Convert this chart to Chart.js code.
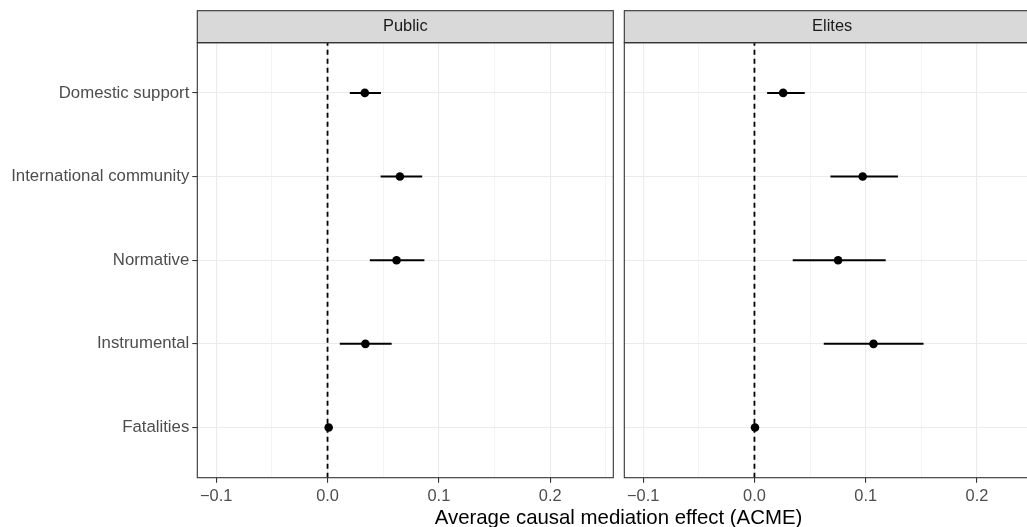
<!DOCTYPE html>
<html>
<head>
<meta charset="utf-8">
<script src="https://cdn.jsdelivr.net/npm/chart.js@4.4.1/dist/chart.umd.min.js"></script>
<style>
html,body{margin:0;padding:0;background:#fff;overflow:hidden;width:1027px;height:527px;position:relative;}
#c1{position:absolute;left:0;top:0;}
#c2{position:absolute;left:619px;top:0;}
#xt{position:absolute;left:318.5px;width:600px;top:505px;line-height:24px;text-align:center;
  font-family:"Liberation Sans",Arial,Helvetica,sans-serif;font-size:20.4px;color:#000;}
</style>
</head>
<body>
<canvas id="c1" width="619" height="527"></canvas>
<canvas id="c2" width="440" height="527"></canvas>
<div id="xt">Average causal mediation effect (ACME)</div>
<script>
// ---- data ----
const categories = ['Domestic support', 'International community', 'Normative', 'Instrumental', 'Fatalities'];
const panels = ['Public', 'Elites'];
const publicEst = [0.0335, 0.065, 0.062, 0.034, 0.001];
const publicLo  = [0.020, 0.0477, 0.038, 0.011, -0.001];
const publicHi  = [0.048, 0.085, 0.087, 0.0576, 0.003];
const elitesEst = [0.0258, 0.0973, 0.0752, 0.107, 0.0005];
const elitesLo  = [0.0114, 0.0683, 0.0344, 0.0623, -0.0025];
const elitesHi  = [0.0452, 0.129, 0.118, 0.152, 0.0035];
const xMajorTicks = [-0.1, 0, 0.1, 0.2];
const xMinorTicks = [-0.05, 0.05, 0.15, 0.25];
const xLabels = ['\u22120.1', '0.0', '0.1', '0.2'];

const FONT = '"Liberation Sans", Arial, Helvetica, sans-serif';
const X_MIN = -0.117, X_MAX = 0.2567;
const Y_MIN = 0.4, Y_MAX = 5.6;
const yOf = i => categories.length - i;

function isMajor(v) { return xMajorTicks.some(t => Math.abs(t - v) < 1e-9); }

function panelPlugin(title) {
  return {
    id: 'panelDeco' + title,
    afterDraw(chart) {
      const ctx = chart.ctx, a = chart.chartArea;
      ctx.save();
      const sTop = 10.7, sBot = a.top;
      ctx.fillStyle = '#D9D9D9';
      ctx.fillRect(a.left, sTop, a.right - a.left, sBot - sTop);
      ctx.strokeStyle = '#333333';
      ctx.lineWidth = 1.1;
      ctx.strokeRect(a.left, sTop, a.right - a.left, sBot - sTop);
      ctx.fillStyle = '#1A1A1A';
      ctx.font = '16.4px ' + FONT;
      ctx.textAlign = 'center';
      ctx.textBaseline = 'middle';
      ctx.fillText(title, (a.left + a.right) / 2, (sTop + sBot) / 2);
      ctx.strokeRect(a.left, a.top, a.right - a.left, a.bottom - a.top);
      ctx.restore();
    }
  };
}

function makePanel(canvasId, title, est, lo, hi, showY, padLeft, padRight, yWidth) {
  const datasets = [];
  datasets.push({
    type: 'scatter', showLine: true, order: 3,
    data: [{x: 0, y: Y_MIN}, {x: 0, y: Y_MAX}],
    borderColor: '#000', borderWidth: 1.8, borderDash: [5, 4],
    pointRadius: 0, pointHoverRadius: 0
  });
  categories.forEach((c, i) => {
    datasets.push({
      type: 'scatter', showLine: true, order: 2,
      data: [{x: lo[i], y: yOf(i)}, {x: hi[i], y: yOf(i)}],
      borderColor: '#000', borderWidth: 2, pointRadius: 0, pointHoverRadius: 0
    });
  });
  datasets.push({
    type: 'scatter', order: 1,
    data: est.map((v, i) => ({x: v, y: yOf(i)})),
    backgroundColor: '#000', borderWidth: 0, pointRadius: 4.3, pointHoverRadius: 4.3
  });

  return new Chart(document.getElementById(canvasId), {
    type: 'scatter',
    data: { datasets },
    options: {
      responsive: false, animation: false, devicePixelRatio: 1,
      layout: { padding: { top: 42.7, left: padLeft, right: padRight, bottom: 0 } },
      plugins: { legend: { display: false }, tooltip: { enabled: false } },
      scales: {
        x: {
          type: 'linear', min: X_MIN, max: X_MAX,
          border: { display: false },
          afterBuildTicks: s => { s.ticks = xMajorTicks.concat(xMinorTicks).sort((a, b) => a - b).map(v => ({value: v})); },
          afterFit: s => { s.height = 49.3; },
          grid: {
            color: '#EBEBEB',
            lineWidth: c => (c.tick && isMajor(c.tick.value)) ? 1.1 : 0.55,
            tickColor: c => (c.tick && isMajor(c.tick.value)) ? '#333333' : 'rgba(0,0,0,0)',
            tickWidth: 1.1, tickLength: 5, drawTicks: true
          },
          ticks: {
            autoSkip: false, maxRotation: 0, padding: 4,
            color: '#4D4D4D', font: { family: FONT, size: 16.4 },
            callback: v => { const k = xMajorTicks.findIndex(t => Math.abs(t - v) < 1e-9); return k >= 0 ? xLabels[k] : ''; }
          }
        },
        y: {
          type: 'linear', min: Y_MIN, max: Y_MAX,
          border: { display: false },
          afterBuildTicks: s => { s.ticks = categories.map((c, i) => ({value: yOf(i)})); },
          afterFit: s => { s.width = yWidth; },
          grid: {
            color: '#EBEBEB', lineWidth: 1.1,
            tickColor: '#333333', tickWidth: 1.1, tickLength: 5, drawTicks: showY
          },
          ticks: {
            display: showY, autoSkip: false, padding: 3,
            color: '#4D4D4D', font: { family: FONT, size: 16.8 },
            callback: v => { const i = categories.length - Math.round(v); return categories[i] || ''; }
          }
        }
      }
    },
    plugins: [panelPlugin(title)]
  });
}

makePanel('c1', panels[0], publicEst, publicLo, publicHi, true, 0, 5.7, 197.3);
makePanel('c2', panels[1], elitesEst, elitesLo, elitesHi, false, 5.3, 19, 0);
</script>
</body>
</html>
